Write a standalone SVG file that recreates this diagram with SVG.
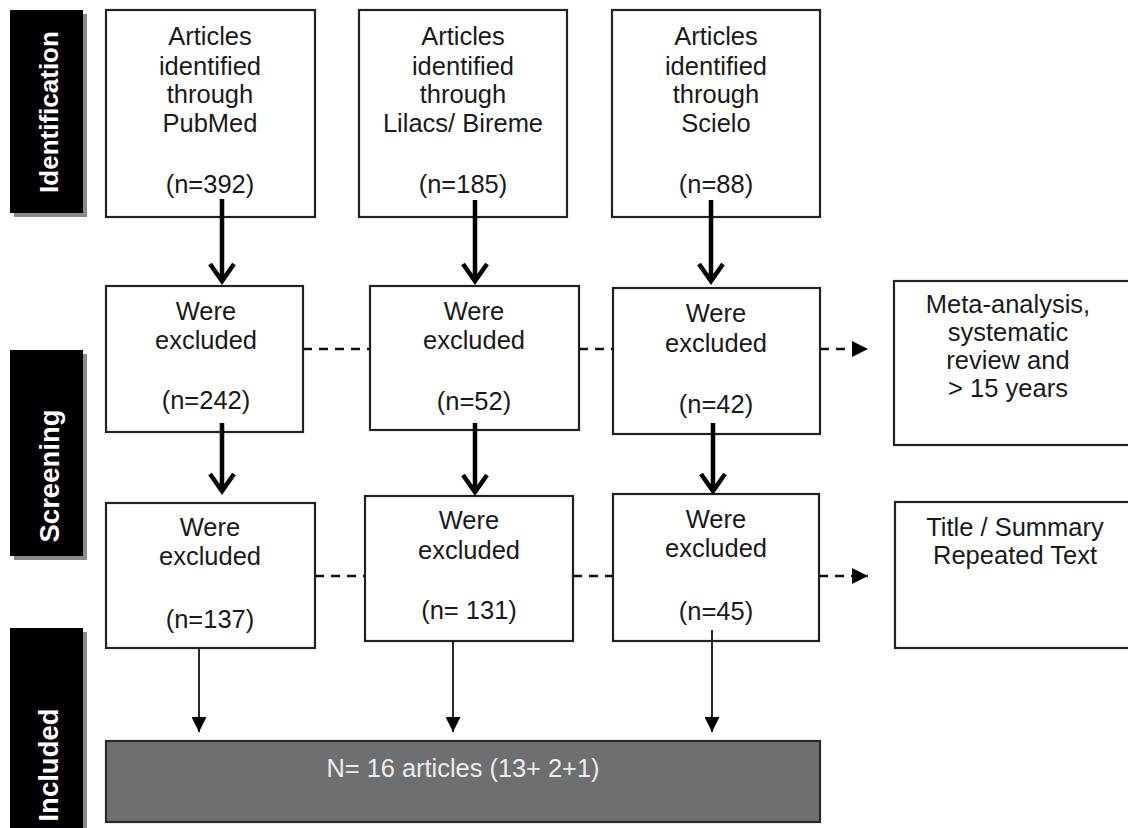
<svg xmlns="http://www.w3.org/2000/svg" width="1128" height="828" viewBox="0 0 1128 828">
<defs>
<style>
.box{fill:#fff;stroke:#222;stroke-width:2.2}
.t{font-family:"Liberation Sans",Arial,sans-serif;font-size:25.5px;fill:#1a1a1a;text-anchor:middle}
.lab{fill:#000}
.shadow{fill:#8a8a8a}
.lt{font-family:"Liberation Sans",Arial,sans-serif;font-weight:bold;fill:#fff;text-anchor:middle}
.thick{stroke:#000;stroke-width:4.5;fill:none}
.thin{stroke:#111;stroke-width:1.8;fill:none}
.dash{stroke:#111;stroke-width:2.5;stroke-dasharray:9 7;fill:none}
</style>
<marker id="tri" viewBox="0 0 10 10" refX="10" refY="5" markerWidth="15" markerHeight="15" markerUnits="userSpaceOnUse" orient="auto">
<path d="M0,0 L10,5 L0,10 Z" fill="#000"/>
</marker>
<marker id="tri2" viewBox="0 0 10 10" refX="10" refY="5" markerWidth="16" markerHeight="16" markerUnits="userSpaceOnUse" orient="auto">
<path d="M0,0 L10,5 L0,10 Z" fill="#000"/>
</marker>
</defs>
<rect width="1128" height="828" fill="#fff"/>

<g id="label-identification">
<rect class="shadow" x="14" y="14" width="73" height="203"/>
<rect class="lab" x="10" y="10" width="73" height="203"/>
<text class="lt" font-size="26" transform="translate(58,112) rotate(-90)">Identification</text>
</g>
<g id="label-screening">
<rect class="shadow" x="14" y="354" width="73" height="206"/>
<rect class="lab" x="10" y="350" width="73" height="206"/>
<text class="lt" font-size="27.5" transform="translate(59,476) rotate(-90)">Screening</text>
</g>
<g id="label-included">
<rect class="shadow" x="14" y="632" width="73" height="200"/>
<rect class="lab" x="10" y="628" width="73" height="200"/>
<text class="lt" font-size="27.5" transform="translate(58,765) rotate(-90)">Included</text>
</g>

<g id="pubmed">
<rect class="box" x="106" y="10" width="209" height="207"/>
<text class="t" x="210" y="45">Articles</text>
<text class="t" x="210" y="75">identified</text>
<text class="t" x="210" y="103">through</text>
<text class="t" x="210" y="132">PubMed</text>
<text class="t" x="210" y="193">(n=392)</text>
</g>
<g id="lilacs">
<rect class="box" x="359" y="10" width="208" height="207"/>
<text class="t" x="463" y="45">Articles</text>
<text class="t" x="463" y="75">identified</text>
<text class="t" x="463" y="103">through</text>
<text class="t" x="463" y="132">Lilacs/ Bireme</text>
<text class="t" x="463" y="193">(n=185)</text>
</g>
<g id="scielo">
<rect class="box" x="612" y="10" width="208" height="207"/>
<text class="t" x="716" y="45">Articles</text>
<text class="t" x="716" y="75">identified</text>
<text class="t" x="716" y="103">through</text>
<text class="t" x="716" y="132">Scielo</text>
<text class="t" x="716" y="193">(n=88)</text>
</g>

<g id="excl-a1">
<rect class="box" x="106" y="286" width="197" height="146"/>
<text class="t" x="206" y="320">Were</text>
<text class="t" x="206" y="349">excluded</text>
<text class="t" x="206" y="409">(n=242)</text>
</g>
<g id="excl-b1">
<rect class="box" x="370" y="286" width="209" height="144"/>
<text class="t" x="474" y="320">Were</text>
<text class="t" x="474" y="349">excluded</text>
<text class="t" x="474" y="410">(n=52)</text>
</g>
<g id="excl-c1">
<rect class="box" x="613" y="288" width="207" height="146"/>
<text class="t" x="716" y="322">Were</text>
<text class="t" x="716" y="352">excluded</text>
<text class="t" x="716" y="413">(n=42)</text>
</g>
<g id="reason1">
<rect class="box" x="894" y="281" width="240" height="164"/>
<text class="t" x="1008" y="313">Meta-analysis,</text>
<text class="t" x="1008" y="341">systematic</text>
<text class="t" x="1008" y="369">review and</text>
<text class="t" x="1008" y="397">&gt; 15 years</text>
</g>

<g id="excl-a2">
<rect class="box" x="106" y="503" width="209" height="145"/>
<text class="t" x="210" y="536">Were</text>
<text class="t" x="210" y="565">excluded</text>
<text class="t" x="210" y="628">(n=137)</text>
</g>
<g id="excl-b2">
<rect class="box" x="365" y="496" width="208" height="145"/>
<text class="t" x="469" y="529">Were</text>
<text class="t" x="469" y="559">excluded</text>
<text class="t" x="469" y="619">(n= 131)</text>
</g>
<g id="excl-c2">
<rect class="box" x="613" y="494" width="206" height="147"/>
<text class="t" x="716" y="528">Were</text>
<text class="t" x="716" y="557">excluded</text>
<text class="t" x="716" y="620">(n=45)</text>
</g>
<g id="reason2">
<rect class="box" x="895" y="502" width="240" height="146"/>
<text class="t" x="1015" y="536">Title / Summary</text>
<text class="t" x="1015" y="564">Repeated Text</text>
</g>

<g id="included">
<rect x="106" y="741" width="714" height="81" fill="#6d6f70" stroke="#2a2a2a" stroke-width="2.2"/>
<text x="463" y="777" font-family="'Liberation Sans',Arial,sans-serif" font-size="25" fill="#ececec" text-anchor="middle" textLength="273" lengthAdjust="spacingAndGlyphs">N= 16 articles (13+ 2+1)</text>
</g>

<g id="connectors">
<path class="thick" d="M222,199 V281 M210,264 L222,281 L234,264"/>
<path class="thick" d="M475,200 V281 M463,264 L475,281 L487,264"/>
<path class="thick" d="M711,200 V281 M699,264 L711,281 L723,264"/>
<path class="thick" d="M222,423 V491 M210,474 L222,491 L234,474"/>
<path class="thick" d="M475,423 V492 M463,475 L475,492 L487,475"/>
<path class="thick" d="M713,423 V491 M701,474 L713,491 L725,474"/>
<line class="dash" x1="303" y1="349" x2="370" y2="349"/>
<line class="dash" x1="579" y1="349" x2="613" y2="349"/>
<line class="dash" x1="820" y1="349" x2="868" y2="349" marker-end="url(#tri2)"/>
<line class="dash" x1="315" y1="576" x2="365" y2="576"/>
<line class="dash" x1="573" y1="576" x2="613" y2="576"/>
<line class="dash" x1="819" y1="576" x2="868" y2="576" marker-end="url(#tri2)"/>
<line class="thin" x1="199" y1="648" x2="199" y2="732" marker-end="url(#tri)"/>
<line class="thin" x1="453" y1="641" x2="453" y2="732" marker-end="url(#tri)"/>
<line class="thin" x1="712" y1="630" x2="712" y2="732" marker-end="url(#tri)"/>
</g>
</svg>
